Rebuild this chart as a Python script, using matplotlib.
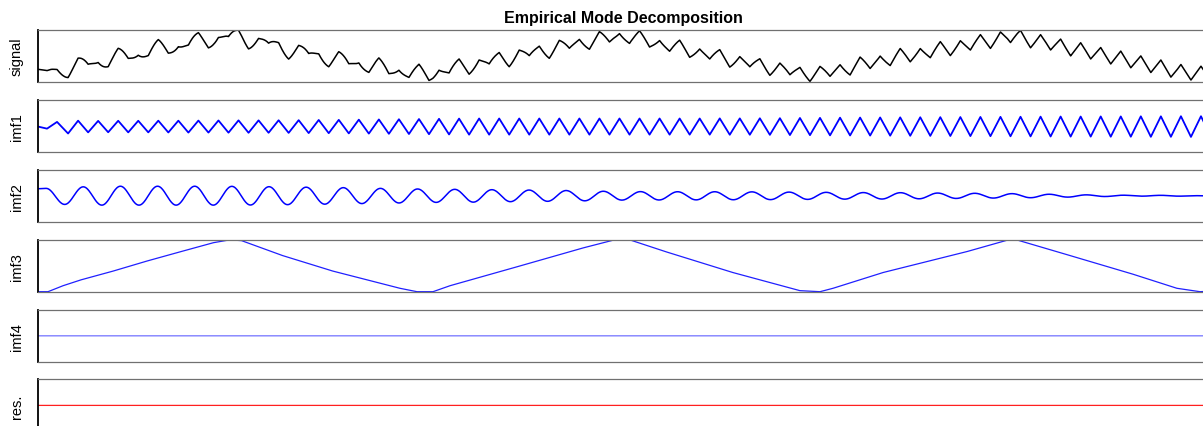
import numpy as np
import matplotlib.pyplot as plt

# Data (time axis in samples, 0 .. 117)
t_end = 117

# imf1: zig-zag vertices (start, then peaks at even and troughs at odd samples)
imf1_start_t = [0.0, 0.9, 1.9]
imf1_start_v = [0.0, -0.2, 0.45]
imf1_peaks = [0.57, 0.55, 0.56, 0.56, 0.57, 0.57, 0.58, 0.59, 0.60, 0.60,
              0.61, 0.62, 0.64, 0.65, 0.67, 0.69, 0.71, 0.73, 0.75, 0.77,
              0.78, 0.78, 0.78, 0.78, 0.78, 0.78, 0.78, 0.78, 0.78, 0.78,
              0.78, 0.78, 0.79, 0.79, 0.80, 0.81, 0.83, 0.84, 0.86, 0.87,
              0.88, 0.89, 0.90, 0.91, 0.92, 0.93, 0.94, 0.95, 0.96, 0.97,
              0.97, 0.98, 0.98, 0.99, 0.99, 1.00, 1.00]
imf1_troughs = [-0.67, -0.56, -0.55, -0.56, -0.56, -0.57, -0.58, -0.58, -0.59, -0.60,
                -0.60, -0.61, -0.63, -0.64, -0.66, -0.68, -0.70, -0.72, -0.74, -0.76,
                -0.78, -0.78, -0.78, -0.78, -0.78, -0.78, -0.78, -0.78, -0.78, -0.78,
                -0.78, -0.78, -0.78, -0.79, -0.79, -0.80, -0.82, -0.83, -0.85, -0.86,
                -0.87, -0.88, -0.89, -0.90, -0.91, -0.92, -0.93, -0.94, -0.95, -0.96,
                -0.97, -0.97, -0.98, -0.98, -0.99, -0.99, -1.00, -1.00]

# imf2: successive extrema (peak, trough, peak, ...), every 1.8525 samples from 0.81
imf2_first_t = 0.81
imf2_half_period = 1.8525
imf2_start = 0.59
imf2_ext = [0.62, -0.72, 0.75, -0.78, 0.80, -0.78, 0.80, -0.78, 0.80, -0.78,
            0.79, -0.77, 0.76, -0.74, 0.72, -0.70, 0.68, -0.65, 0.62, -0.60,
            0.57, -0.55, 0.54, -0.53, 0.51, -0.49, 0.48, -0.46, 0.44, -0.42,
            0.38, -0.36, 0.35, -0.35, 0.34, -0.34, 0.34, -0.33, 0.33, -0.32,
            0.31, -0.30, 0.29, -0.28, 0.27, -0.27, 0.26, -0.25, 0.23, -0.22,
            0.21, -0.19, 0.18, -0.16, 0.13, -0.11, 0.08, -0.06, 0.05, -0.03,
            0.04, -0.03, 0.01]
imf2_end = -0.02

# imf3: slow triangle-like mode
imf3_t = [0.0, 1.0, 2.5, 4.3, 7.5, 10.9, 14.2, 17.5, 18.8, 19.5, 20.3, 24.4,
          29.4, 36.1, 37.8, 39.4, 41.1, 47.8, 54.4, 57.4, 59.1, 62.7, 69.3,
          76.0, 78.0, 79.3, 84.3, 92.7, 96.7, 97.7, 102.6, 109.2, 113.6,
          115.9, 117.0]
imf3_v = [0.0, 0.0, 0.58, 1.15, 2.0, 2.98, 3.87, 4.75, 4.97, 5.0, 4.95, 3.5,
          2.0, 0.33, 0.0, 0.0, 0.58, 2.42, 4.25, 5.0, 5.0, 3.85, 1.86,
          0.1, 0.0, 0.33, 1.86, 3.9, 5.0, 5.0, 3.6, 1.7, 0.33,
          0.0, 0.05]

imf4_level = 0.0
res_level = 0.0

labels = ["signal", "imf1", "imf2", "imf3", "imf4", "res."]

# imf1 vertices in time order
pk_t = 4 + 2 * np.arange(len(imf1_peaks))
tr_t = 3 + 2 * np.arange(len(imf1_troughs))
t1 = np.concatenate([imf1_start_t, pk_t, tr_t])
v1 = np.concatenate([imf1_start_v, imf1_peaks, imf1_troughs])
order = np.argsort(t1)
t1, v1 = t1[order], v1[order]

# imf2 drawn as a smooth curve through its extrema
ext_t = imf2_first_t + imf2_half_period * np.arange(len(imf2_ext))
k_t = np.concatenate([[0.0], ext_t, [t_end]])
k_v = np.concatenate([[imf2_start], imf2_ext, [imf2_end]])
t = np.linspace(0, t_end, 2341)
i = np.clip(np.searchsorted(k_t, t, side="right") - 1, 0, len(k_t) - 2)
u = (t - k_t[i]) / (k_t[i + 1] - k_t[i])
imf2 = k_v[i] + (k_v[i + 1] - k_v[i]) * (1 - np.cos(np.pi * u)) / 2

imf4 = np.full_like(t, imf4_level)
res = np.full_like(t, res_level)
signal = np.interp(t, t1, v1) + imf2 + np.interp(t, imf3_t, imf3_v) + imf4 + res

W, H = 1203, 427
fig = plt.figure(figsize=(W / 100, H / 100), dpi=100)

left = 38 / W
width = (1211 - 38) / W
tops = [30.7, 100.8, 170.7, 240.8, 310.7, 380.3]
ph = 52.2

axes = []
for top in tops:
    ax = fig.add_axes([left, 1 - (top + ph) / H, width, ph / H])
    ax.set_xlim(0, t_end)
    ax.set_xticks([])
    ax.set_yticks([])
    ax.spines["left"].set_color("black")
    ax.spines["left"].set_linewidth(1.3)
    for s in ["top", "bottom", "right"]:
        ax.spines[s].set_color("#707070")
        ax.spines[s].set_linewidth(0.9)
    axes.append(ax)

axes[0].plot(t, signal, color="black", lw=1.1)
pad = 0.01 * (signal.max() - signal.min())
axes[0].set_ylim(signal.min() - pad, signal.max() + pad)

axes[1].plot(t1, v1, color="#0000ff", lw=1.3)
axes[1].set_ylim(-2.46, 2.59)

axes[2].plot(t, imf2, color="#0000ff", lw=1.1)
axes[2].set_ylim(-2.18, 2.18)

axes[3].plot(imf3_t, imf3_v, color="#2020ff", lw=0.9)
axes[3].set_ylim(-0.03, 5.03)

axes[4].plot(t, imf4, color="#8080ff", lw=1.0)
axes[4].set_ylim(-1, 1)

axes[5].plot(t, res, color="#ff2020", lw=0.9)
axes[5].set_ylim(-1, 1)

for top, lab in zip(tops, labels):
    fig.text(17 / W, 1 - (top + ph / 2) / H, lab, rotation=90,
             ha="center", va="center", fontsize=10.5,
             family=["Liberation Sans", "DejaVu Sans"])

fig.text(623 / W, 1 - 18 / H, "Empirical Mode Decomposition",
         ha="center", va="center", fontsize=11.5, fontweight="bold",
         family=["Liberation Sans", "DejaVu Sans"])

fig.savefig("out.png", dpi=100)
